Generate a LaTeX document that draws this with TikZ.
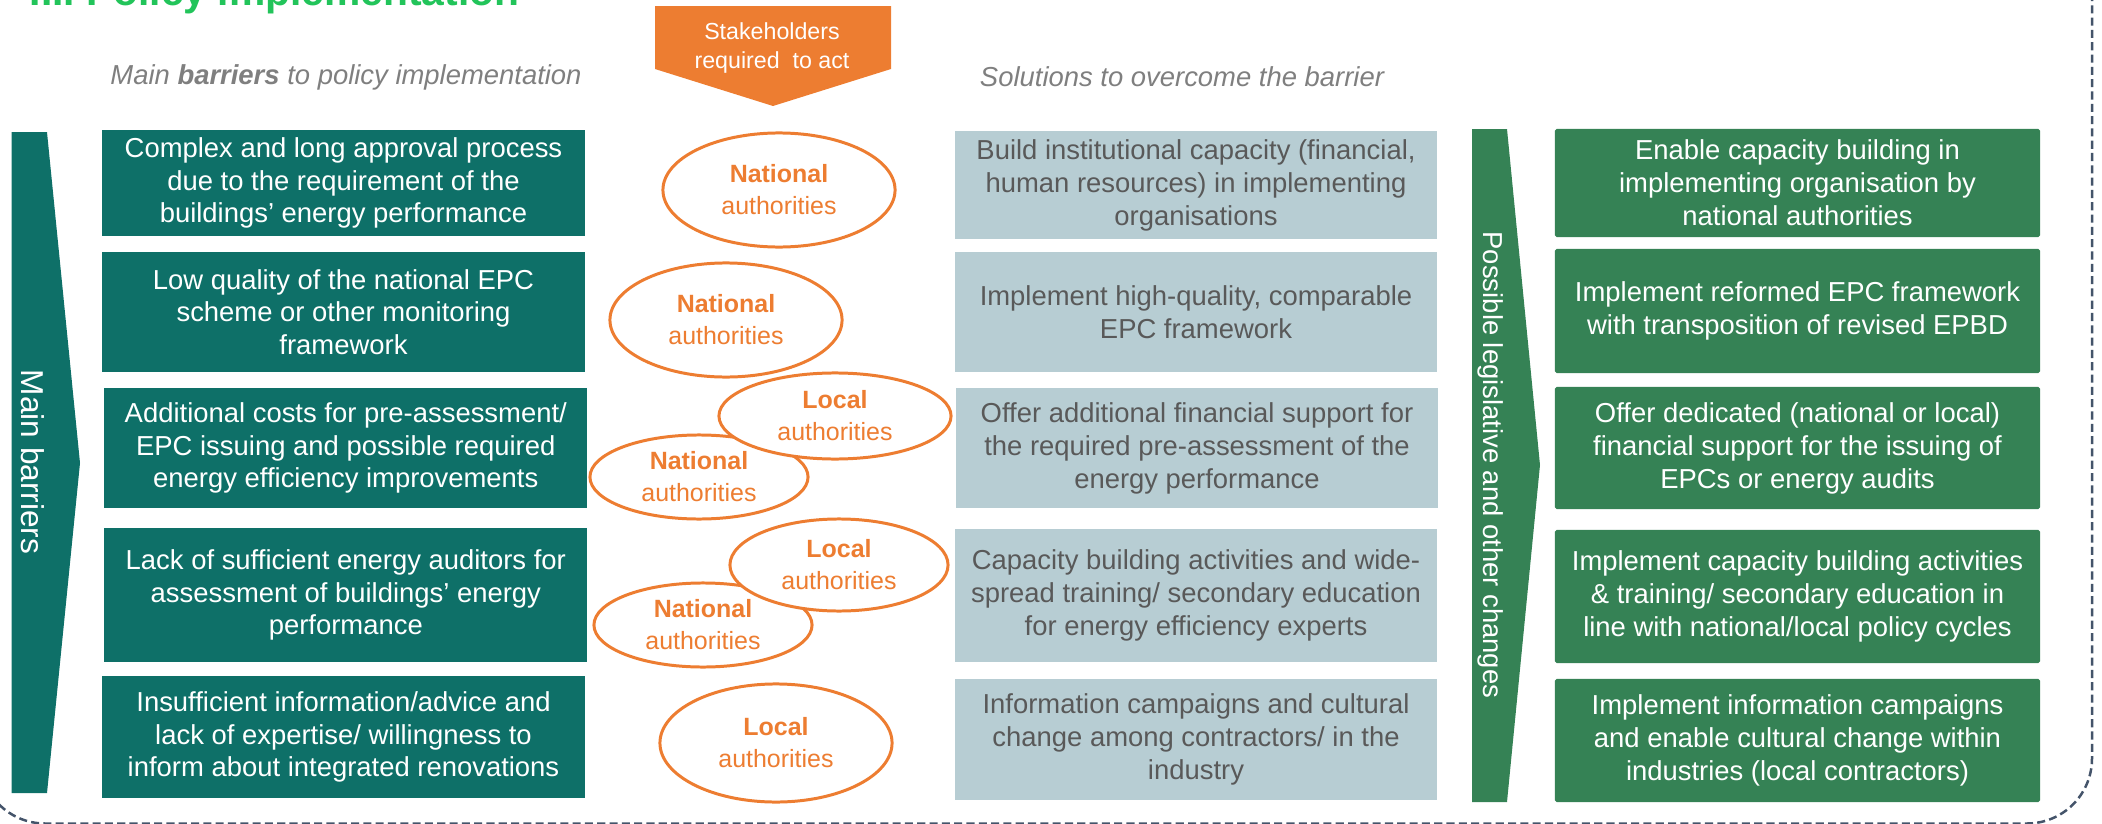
\documentclass[tikz,border=0pt]{standalone}
\usepackage{fontspec}
\setmainfont{Liberation Sans}
\definecolor{barrierColour}{RGB}{14,112,104}
\definecolor{solutionColour}{RGB}{183,205,211}
\definecolor{changeColour}{RGB}{53,130,85}
\definecolor{actorColour}{RGB}{237,125,49}
\definecolor{bodyGrey}{RGB}{89,89,89}
\definecolor{headGrey}{RGB}{127,127,127}
\definecolor{titleColour}{RGB}{34,196,90}
\definecolor{frameColour}{RGB}{68,84,106}
\usetikzlibrary{
    shapes.geometric,
    positioning
}
\tikzset{
    barrier/.style={
        rectangle,
        fill=barrierColour,
        text=white,
        minimum width=4.83cm,
        inner sep=0pt,
        align=center,
        font=\fontsize{7.8}{9.2}\selectfont,
    },
    solution/.style={
        rectangle,
        fill=solutionColour,
        text=bodyGrey,
        minimum width=4.82cm,
        inner sep=0pt,
        align=center,
        font=\fontsize{7.8}{9.4}\selectfont,
    },
    change/.style={
        rectangle,
        rounded corners=0.5pt,
        fill=changeColour,
        text=white,
        minimum width=4.85cm,
        inner sep=0pt,
        align=center,
        font=\fontsize{7.8}{9.4}\selectfont,
    },
    actor/.style={
        ellipse,
        draw=actorColour,
        line width=0.85pt,
        fill=white,
        text=actorColour,
        inner sep=0pt,
        align=center,
        font=\fontsize{7.1}{9.1}\selectfont,
    },
    heading/.style={
        text=headGrey,
        inner sep=0pt,
        font=\itshape\fontsize{7.8}{9}\selectfont,
    },
    sidelabel/.style={
        text=white,
        inner sep=0pt,
        rotate=-90,
    },
}

\begin{document}
\begin{tikzpicture}[x=0.01cm, y=-0.01cm]
    \useasboundingbox (0,0) rectangle (2102,824);
    \clip (0,0) rectangle (2102,824);

    % dashed frame round the section
    \draw[frameColour, line width=0.71pt, dash pattern=on 2.3pt off 1.2pt, rounded corners=0.65cm]
        (-20,-80) rectangle (2092,823.5);

    \node[anchor=base west, inner sep=0pt, text=titleColour, font=\bfseries\fontsize{11.6}{13}\selectfont]
        (title) at (29,5) {III. Policy implementation};

    \begin{scope}
        \fill[actorColour] (655,6) -- (891,6) -- (891,69) -- (773,106) -- (655,69) -- cycle;
        \node[text=white, inner sep=0pt, align=center, font=\fontsize{6.6}{8.5}\selectfont]
            (stake) at (772,48) {Stakeholders\\required~ to act};

        \node[heading] (head_bar) at (346,77) {Main \textbf{barriers} to policy implementation};
        \node[heading] (head_sol) at (1182,77) {Solutions to overcome the barrier};
    \end{scope}

    \begin{scope}
        \fill[barrierColour] (11.5,132) -- (47,132) -- (80,463) -- (47,793) -- (11.5,793) -- cycle;
        \node[sidelabel, font=\fontsize{9}{10}\selectfont] (side_bar) at (33,462) {Main barriers};

        \node[barrier, minimum height=1.06cm] (bar_1) at (343.5,183) {Complex and long approval process\\due to the requirement of the\\buildings' energy performance};
        \node[barrier, minimum height=1.2cm] (bar_2) at (343.5,312) {Low quality of the national EPC\\scheme or other monitoring\\framework};
        \node[barrier, minimum height=1.2cm] (bar_3) at (345.8,448) {Additional costs for pre-assessment/\\EPC issuing and possible required\\energy efficiency improvements};
        \node[barrier, minimum height=1.34cm] (bar_4) at (345.8,595) {Lack of sufficient energy auditors for\\assessment of buildings' energy\\performance};
        \node[barrier, minimum height=1.22cm] (bar_5) at (343.5,737) {Insufficient information/advice and\\lack of expertise/ willingness to\\inform about integrated renovations};
    \end{scope}

    \begin{scope}
        \node[actor, minimum width=2.32cm, minimum height=1.14cm] (auth_1) at (779,190) {\textbf{National}\\authorities};
        \node[actor, minimum width=2.32cm, minimum height=1.14cm] (auth_2) at (726,320) {\textbf{National}\\authorities};
        \node[actor, minimum width=2.18cm, minimum height=0.84cm] (auth_3n) at (699,477) {\textbf{National}\\authorities};
        \node[actor, minimum width=2.32cm, minimum height=0.86cm] (auth_3l) at (835,416) {\textbf{Local}\\authorities};
        \node[actor, minimum width=2.18cm, minimum height=0.84cm] (auth_4n) at (703,625) {\textbf{National}\\authorities};
        \node[actor, minimum width=2.18cm, minimum height=0.92cm] (auth_4l) at (839,565) {\textbf{Local}\\authorities};
        \node[actor, minimum width=2.32cm, minimum height=1.18cm] (auth_5) at (776,743) {\textbf{Local}\\authorities};
    \end{scope}

    \begin{scope}
        \node[solution, minimum height=1.08cm] (sol_1) at (1196,185) {Build institutional capacity (financial,\\human resources) in implementing\\organisations};
        \node[solution, minimum height=1.2cm] (sol_2) at (1196,312) {Implement high-quality, comparable\\EPC framework};
        \node[solution, minimum height=1.2cm] (sol_3) at (1197,448) {Offer additional financial support for\\the required pre-assessment of the\\energy performance};
        \node[solution, minimum height=1.33cm] (sol_4) at (1196,595.5) {Capacity building activities and wide-\\spread training/ secondary education\\for energy efficiency experts};
        \node[solution, minimum height=1.21cm] (sol_5) at (1196,739.5) {Information campaigns and cultural\\change among contractors/ in the\\industry};
    \end{scope}

    \begin{scope}
        \fill[changeColour] (1472,129) -- (1507,129) -- (1540,465) -- (1507,802) -- (1472,802) -- cycle;
        \node[sidelabel, font=\fontsize{7.8}{9}\selectfont] (side_chg) at (1491,465) {Possible legislative and other changes};

        \node[change, minimum height=1.08cm] (chg_1) at (1797.5,183) {Enable capacity building in\\implementing organisation by\\national authorities};
        \node[change, minimum height=1.24cm] (chg_2) at (1797.5,311) {Implement reformed EPC framework\\with transposition of revised EPBD};
        \node[change, minimum height=1.22cm] (chg_3) at (1797.5,448) {Offer dedicated (national or local)\\financial support for the issuing of\\EPCs or energy audits};
        \node[change, minimum height=1.33cm] (chg_4) at (1797.5,596.5) {Implement capacity building activities\\\& training/ secondary education in\\line with national/local policy cycles};
        \node[change, minimum height=1.23cm] (chg_5) at (1797.5,740.5) {Implement information campaigns\\and enable cultural change within\\industries (local contractors)};
    \end{scope}
\end{tikzpicture}
\end{document}
